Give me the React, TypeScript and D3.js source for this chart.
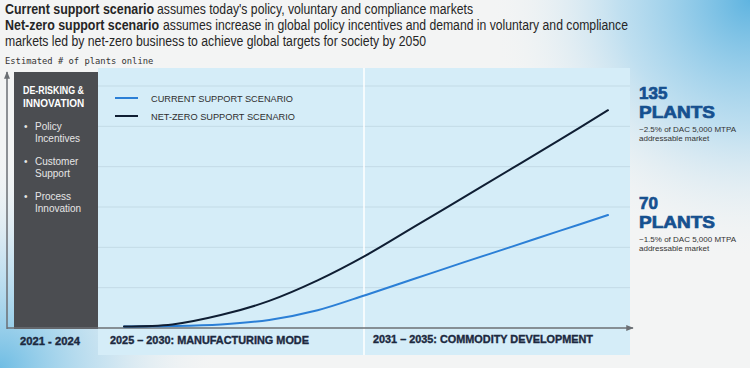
import * as d3 from "d3";

// years on the x axis and estimated plants online per scenario
const years = [2025, 2026, 2027, 2028, 2029, 2030, 2031, 2032, 2033, 2034, 2035];
const currentSupport = [1, 1.2, 2.2, 5, 11, 20.5, 30.5, 40.5, 50.3, 60.2, 70];
const netZeroSupport = [1, 2.2, 8, 16.8, 29.5, 45, 62.8, 80.7, 98.6, 116.6, 135];
const gridValues = [25, 50, 75, 100, 125, 150];

const seriesNames = ["CURRENT SUPPORT SCENARIO", "NET-ZERO SUPPORT SCENARIO"];
const seriesColors = ["#2b7fd6", "#0f1e33"];

const phaseLabels = ["2021 - 2024", "2025 \u2013 2030: MANUFACTURING MODE", "2031 \u2013 2035: COMMODITY DEVELOPMENT"];
const bulletItems = [["Policy", "Incentives"], ["Customer", "Support"], ["Process", "Innovation"]];

const W = 750;
const H = 368;

export default function App() {
  const x = d3.scaleLinear().domain([2025, 2035]).range([124, 608]);
  const y = d3.scaleLinear().domain([0, 150]).range([328, 86]);

  const line = d3
    .line<number>()
    .x((_, i) => x(years[i]))
    .y((d) => y(d))
    .curve(d3.curveCatmullRom.alpha(0.5));

  const sans = "'Liberation Sans', Arial, sans-serif";
  const narrow = "'Liberation Sans Narrow', 'Arial Narrow', 'Liberation Sans', sans-serif";

  return (
    <svg width={W} height={H} style={{ position: "absolute", left: 0, top: 0 }}>
      <defs>
        <radialGradient id="tr" cx={W} cy={0} r={260} gradientUnits="userSpaceOnUse">
          <stop offset="0" stopColor="#5fb4e0" />
          <stop offset="0.5" stopColor="#a9d6ee" stopOpacity="0.7" />
          <stop offset="1" stopColor="#f3f5f6" stopOpacity="0" />
        </radialGradient>
        <radialGradient id="bl" cx={0} cy={H} r={220} gradientUnits="userSpaceOnUse">
          <stop offset="0" stopColor="#6fbde4" />
          <stop offset="0.5" stopColor="#b2daef" stopOpacity="0.6" />
          <stop offset="1" stopColor="#f3f5f6" stopOpacity="0" />
        </radialGradient>
        <marker id="arr" viewBox="0 0 10 10" refX="9" refY="5" markerWidth="5" markerHeight="5" orient="auto">
          <path d="M0,1 L10,5 L0,9 Z" fill="#6b6f74" />
        </marker>
      </defs>
      <rect width={W} height={H} fill="#f3f4f4" />
      <rect width={W} height={H} fill="url(#tr)" />
      <rect width={W} height={H} fill="url(#bl)" />

      {/* heading */}
      <g fontFamily={narrow} fontSize={14} fill="#262626">
        <text x={5} y={14} fontWeight="bold" textLength={149} lengthAdjust="spacingAndGlyphs">Current support scenario</text>
        <text x={157} y={14} textLength={316} lengthAdjust="spacingAndGlyphs">assumes today's policy, voluntary and compliance markets</text>
        <text x={5} y={30} fontWeight="bold" textLength={154} lengthAdjust="spacingAndGlyphs">Net-zero support scenario</text>
        <text x={163} y={30} textLength={465} lengthAdjust="spacingAndGlyphs">assumes increase in global policy incentives and demand in voluntary and compliance</text>
        <text x={5} y={46} textLength={421} lengthAdjust="spacingAndGlyphs">
          markets led by net-zero business to achieve global targets for society by 2050
        </text>
      </g>
      <text x={5} y={64} fontFamily="'DejaVu Sans Mono', monospace" fontSize={8.8} fill="#333">
        Estimated # of plants online
      </text>

      {/* plot panel */}
      <rect x={98} y={68} width={532} height={287} fill="#d5edf8" />
      {gridValues.map((v) => (
        <line key={v} x1={98} x2={630} y1={y(v)} y2={y(v)} stroke="#c3dbe6" strokeWidth={1} />
      ))}
      <line x1={364} x2={364} y1={68} y2={355} stroke="#ffffff" strokeWidth={1.5} />

      {/* de-risking box */}
      <rect x={14} y={72} width={84} height={257} fill="#4b4d51" />
      <g fontFamily={sans} fill="#ffffff">
        <text x={23} y={94} fontSize={10} fontWeight="bold" textLength={61} lengthAdjust="spacingAndGlyphs">DE-RISKING &amp;</text>
        <text x={23} y={107} fontSize={10} fontWeight="bold">INNOVATION</text>
        {bulletItems.map((b, i) => (
          <g key={i} fontSize={10} fill="#e6e6e6">
            <text x={24} y={130 + i * 35}>{"\u2022"}</text>
            <text x={35} y={130 + i * 35}>{b[0]}</text>
            <text x={35} y={142 + i * 35}>{b[1]}</text>
          </g>
        ))}
      </g>

      {/* axes */}
      <line x1={7} y1={329} x2={7} y2={72} stroke="#6b6f74" strokeWidth={1.5} markerEnd="url(#arr)" />
      <line x1={7} y1={328} x2={633} y2={328} stroke="#6b6f74" strokeWidth={1.5} markerEnd="url(#arr)" />

      {/* series */}
      {[currentSupport, netZeroSupport].map((s, i) => (
        <path key={i} d={line(s) ?? ""} fill="none" stroke={seriesColors[i]} strokeWidth={2} strokeLinecap="round" />
      ))}

      {/* legend */}
      {seriesNames.map((n, i) => (
        <g key={n}>
          <line x1={115} x2={138} y1={98 + i * 18} y2={98 + i * 18} stroke={seriesColors[i]} strokeWidth={2} />
          <text x={151} y={102 + i * 18} fontFamily={sans} fontSize={9.5} fill="#2e2e2e"
            textLength={i === 0 ? 142 : 144} lengthAdjust="spacingAndGlyphs">{n}</text>
        </g>
      ))}

      {/* phase labels */}
      <g fontFamily={sans} fontWeight="bold" fontSize={10.5} fill="#1c2940" stroke="#1c2940" strokeWidth={0.35}>
        <text x={50} y={345} textAnchor="middle" textLength={60} lengthAdjust="spacingAndGlyphs">{phaseLabels[0]}</text>
        <text x={110} y={344} textLength={199} lengthAdjust="spacingAndGlyphs">{phaseLabels[1]}</text>
        <text x={373} y={343} textLength={220} lengthAdjust="spacingAndGlyphs">{phaseLabels[2]}</text>
      </g>

      {/* end annotations */}
      {[
        { v: netZeroSupport[netZeroSupport.length - 1], top: 99, share: "~2.5%" },
        { v: currentSupport[currentSupport.length - 1], top: 209, share: "~1.5%" },
      ].map((a) => (
        <g key={a.v} fontFamily={sans}>
          <g fontSize={17} fontWeight="bold" fill="#16508f" stroke="#16508f" strokeWidth={0.7}>
            <text x={639} y={a.top}>{a.v}</text>
            <text x={639} y={a.top + 19} textLength={76} lengthAdjust="spacingAndGlyphs">PLANTS</text>
          </g>
          <text x={639} y={a.top + 33} fontSize={8} fill="#333">{a.share} of DAC 5,000 MTPA</text>
          <text x={639} y={a.top + 42} fontSize={8} fill="#333">addressable market</text>
        </g>
      ))}
    </svg>
  );
}
